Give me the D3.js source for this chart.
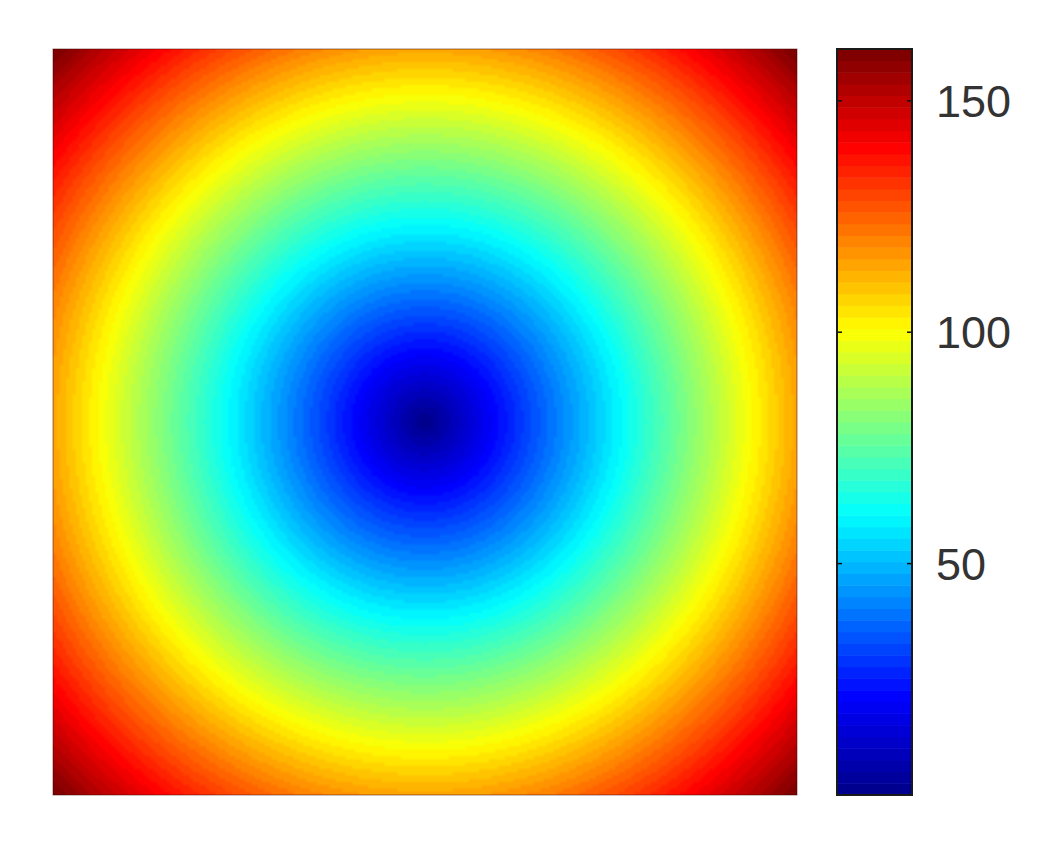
<!DOCTYPE html>
<html>
<head>
<meta charset="utf-8">
<script src="https://cdn.jsdelivr.net/npm/d3@7/dist/d3.min.js"></script>
<style>
  body { margin: 0; background: #fff; }
  svg { display: block; }
</style>
</head>
<body>
<svg id="chart" width="1061" height="844"></svg>
<script>
// grid coordinates of the image (distance from centre)
var gridX = d3.range(-114, 115);
var gridY = d3.range(-114, 115);
// value range of the colour axis
var valueRange = [0, 161.2];
var cbTicks = [50, 100, 150];
// jet colormap anchors (MATLAB default, 64 levels)
var jetStops = ["#00008f", "#0000ff", "#00ffff", "#ffff00", "#ff0000", "#800000"];
var jetPos = [0, 0.125, 0.375, 0.625, 0.875, 1];
var nLevels = 64;

var svg = d3.select("#chart");
var plot = {left: 53, right: 797, top: 49, bottom: 795};
var cb = {left: 837, right: 912, top: 49, bottom: 795};

var jetInterp = d3.scaleLinear().domain(jetPos).range(jetStops).interpolate(d3.interpolateRgb);
var levels = d3.range(nLevels).map(function(i){ return jetInterp(i/(nLevels-1)); });
var color = d3.scaleQuantize().domain(valueRange).range(levels);

var x = d3.scaleBand().domain(gridX).range([plot.left, plot.right]);
var y = d3.scaleBand().domain(gridY).range([plot.top, plot.bottom]);

// paint the field into a small canvas, then scale it up into the svg
var canvas = document.createElement("canvas");
canvas.width = gridX.length;
canvas.height = gridY.length;
var ctx = canvas.getContext("2d");
var img = ctx.createImageData(gridX.length, gridY.length);
gridY.forEach(function(gy, j){
  gridX.forEach(function(gx, i){
    var v = Math.sqrt(gx*gx + gy*gy);
    var c = d3.rgb(color(v));
    var k = (j*gridX.length + i)*4;
    img.data[k] = c.r; img.data[k+1] = c.g; img.data[k+2] = c.b; img.data[k+3] = 255;
  });
});
ctx.putImageData(img, 0, 0);

svg.append("image")
  .attr("x", plot.left)
  .attr("y", plot.top)
  .attr("width", x.bandwidth()*gridX.length)
  .attr("height", y.bandwidth()*gridY.length)
  .attr("preserveAspectRatio", "none")
  .attr("href", canvas.toDataURL());

svg.append("rect")
  .attr("x", plot.left).attr("y", plot.top)
  .attr("width", plot.right-plot.left).attr("height", plot.bottom-plot.top)
  .style("fill", "none").style("stroke", "rgba(60,0,0,0.5)").style("stroke-width", 1);

// colorbar
var cy = d3.scaleLinear().domain(valueRange).range([cb.bottom, cb.top]);
var step = (valueRange[1]-valueRange[0])/nLevels;
svg.append("g")
  .selectAll("rect")
  .data(levels)
  .enter()
  .append("rect")
  .attr("x", cb.left)
  .attr("y", function(d,i){ return cy(valueRange[0] + (i+1)*step); })
  .attr("width", cb.right-cb.left)
  .attr("height", function(d,i){ return cy(valueRange[0] + i*step) - cy(valueRange[0] + (i+1)*step) + 0.5; })
  .attr("fill", function(d){ return d; });

var tickG = svg.append("g");
cbTicks.forEach(function(t){
  tickG.append("line")
    .attr("x1", cb.left).attr("x2", cb.left+5)
    .attr("y1", cy(t)).attr("y2", cy(t))
    .style("stroke", "#111").style("stroke-width", 1.5);
  tickG.append("line")
    .attr("x1", cb.right-5).attr("x2", cb.right)
    .attr("y1", cy(t)).attr("y2", cy(t))
    .style("stroke", "#111").style("stroke-width", 1.5);
  tickG.append("text")
    .attr("x", 936)
    .attr("y", cy(t))
    .attr("dy", "0.36em")
    .style("font-family", "'Liberation Sans', Arial, sans-serif")
    .style("font-size", "45px")
    .style("fill", "#333")
    .text(t);
});

svg.append("rect")
  .attr("x", cb.left).attr("y", cb.top)
  .attr("width", cb.right-cb.left).attr("height", cb.bottom-cb.top)
  .style("fill", "none").style("stroke", "#1a1a1a").style("stroke-width", 2);
</script>
</body>
</html>
